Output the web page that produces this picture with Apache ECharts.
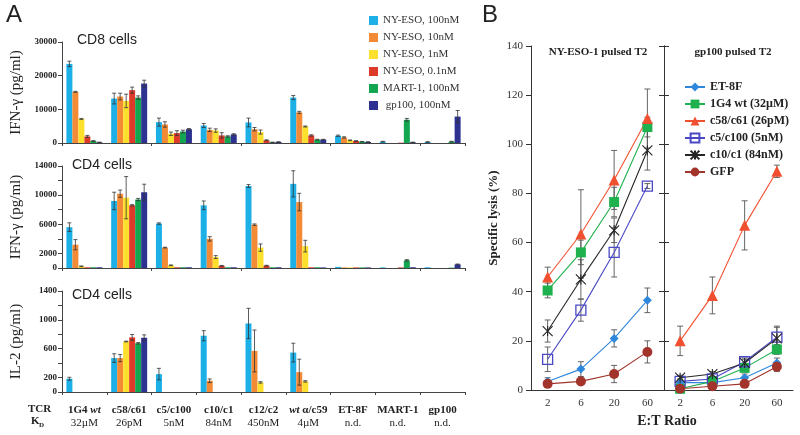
<!DOCTYPE html>
<html><head><meta charset="utf-8">
<script src="https://cdn.jsdelivr.net/npm/echarts@6/dist/echarts.min.js"></script>
<style>html,body{margin:0;padding:0;background:#fff}#c{width:800px;height:435px}</style>
</head><body><div id="c"></div>
<script>
// ---------- Panel A data ----------
const categories = ['1G4 wt','c58/c61','c5/c100','c10/c1','c12/c2','wt α/c59','ET-8F','MART-1','gp100'];
const kdValues = ['32µM','26pM','5nM','84nM','450nM','4µM','n.d.','n.d.','n.d.'];
const peptideNames = ['NY-ESO, 100nM','NY-ESO, 10nM','NY-ESO, 1nM','NY-ESO, 0.1nM','MART-1, 100nM',' gp100, 100nM'];
const peptideColors = ['#1cb0e6','#f28a36','#fde02e','#de3a2a','#13a650','#2d3190'];

const cd8Ifn = [
  [23500,13200,6200,5200,6100,13500,2150,400,300],
  [15200,13800,5500,3900,4100,9100,1650,0,0],
  [7150,12500,2750,3700,3250,4900,800,0,0],
  [1950,15700,2950,2250,800,2250,600,100,0],
  [600,13500,3400,1950,200,1000,400,6900,400],
  [200,17650,4100,2550,300,1000,300,200,7850]
];
const cd8IfnErr = [
  [800,1600,1200,600,1300,600,200,100,100],
  [150,1000,800,500,500,300,200,0,0],
  [150,2000,500,500,600,150,100,0,0],
  [300,900,700,800,150,200,100,0,0],
  [100,500,400,200,50,100,50,400,100],
  [50,1000,200,200,50,100,50,50,1800]
];
const cd4Ifn = [
  [5600,9200,6100,8600,11250,11550,150,80,100],
  [3200,10200,2800,4000,5950,9050,80,0,0],
  [230,9650,370,1500,2800,3000,80,0,0],
  [100,8600,100,300,320,100,80,80,0],
  [100,9400,100,100,100,100,80,1050,50],
  [100,10400,100,100,100,80,80,100,500]
];
const cd4IfnErr = [
  [600,1200,100,600,200,1800,0,0,0],
  [700,500,50,300,100,1200,0,0,0],
  [50,2900,50,200,500,800,0,0,0],
  [0,100,0,50,50,0,0,0,0],
  [0,150,0,0,0,0,0,100,0],
  [0,1100,0,0,0,0,0,0,50]
];
const cd4Il2 = [
  [184,470,248,780,950,546,0,0,0],
  [0,470,0,156,569,275,0,0,0],
  [0,700,0,0,133,147,0,0,0],
  [0,757,0,0,0,0,0,0,0],
  [0,675,0,0,0,0,0,0,0],
  [0,752,0,0,0,0,0,0,0]
];
const cd4Il2Err = [
  [20,60,80,70,210,130,0,0,0],
  [0,50,0,25,290,180,0,0,0],
  [0,5,0,0,10,10,0,0,0],
  [0,40,0,0,0,0,0,0,0],
  [0,10,0,0,0,0,0,0,0],
  [0,40,0,0,0,0,0,0,0]
];
const cd8IfnTicks = [0,10000,20000,30000];
const cd4IfnTicks = [0,2000,6000,10000,14000];
const cd4Il2Ticks = [0,200,600,1000,1400];

// ---------- Panel B data ----------
const etRatios = ['2','6','20','60'];
const tcrNames = ['ET-8F','1G4 wt (32µM)','c58/c61 (26pM)','c5/c100 (5nM)','c10/c1 (84nM)','GFP'];
const tcrColors = ['#2f87dc','#1fb14e','#f0502f','#4a48c4','#262626','#a3342b'];
const lysisNyEso = [
  [3.5,8.5,21,36.5],
  [40.5,56,76.5,107],
  [46,63.5,85.5,110.5],
  [12.5,32.5,56,83],
  [24,45,65,97.5],
  [2.5,3.5,6.5,15.5]
];
const lysisNyEsoErr = [
  [1.5,3,3.5,5],
  [3,5,6,4],
  [4,18,12,12],
  [5,4.5,10,1],
  [4.5,8,5,8],
  [1,1,3.5,4.5]
];
const lysisGp100 = [
  [3,3,5,11],
  [0.5,3.5,9,16.5],
  [20,38.5,67,89],
  [3.5,4.5,11.5,21.5],
  [5,6.5,11,21],
  [0.5,1.5,2.5,9.5]
];
const lysisGp100Err = [
  [1,1,1.5,2],
  [0.5,1,1.5,2],
  [6,7.5,10,2.5],
  [1,1,1.5,4.5],
  [1,1,1.5,4.5],
  [0.5,1,1,2]
];

// ---------- build ----------
const SERIF = 'Liberation Serif';
const SANS = 'Liberation Sans';
const BAR_W = 6;
const chart = echarts.init(document.getElementById('c'), null, {renderer:'canvas'});

function errRenderer(offset, cap, color, lw){
  return function(params, api){
    const x = api.value(0), y = api.value(1), e = api.value(2);
    if (!e) return null;
    const top = api.coord([x, y + e]);
    const bot = api.coord([x, Math.max(0, y - e)]);
    const cx = top[0] + offset;
    const st = {stroke: color, lineWidth: lw};
    return {type:'group', children:[
      {type:'line', shape:{x1:cx, y1:top[1], x2:cx, y2:bot[1]}, style:st},
      {type:'line', shape:{x1:cx-cap, y1:top[1], x2:cx+cap, y2:top[1]}, style:st},
      {type:'line', shape:{x1:cx-cap, y1:bot[1], x2:cx+cap, y2:bot[1]}, style:st}
    ]};
  };
}

const grids = [
  {left:62, top:42, width:403, height:101},
  {left:62, top:166, width:403, height:102},
  {left:62, top:291, width:403, height:101},
  {left:531, top:46, width:133, height:344},
  {left:664, top:46, width:129, height:344}
];

function catLabel(v, i){
  const words = v.split(' ');
  const first = words.map(w => w === 'wt' ? '{bi|wt}' : '{b|' + w + '}').join('{b| }');
  return first + '\n{n|' + kdValues[i] + '}';
}

const axisLineStyle = {color:'#444', width:1};
const xAxes = [0,1,2].map(g => ({
  type:'category', gridIndex:g, data:categories,
  axisLine:{lineStyle:axisLineStyle},
  axisTick:{show:true, length:3, lineStyle:axisLineStyle},
  axisLabel: g === 2 ? {
    show:true, margin:12, interval:0,
    formatter: catLabel,
    rich:{
      b:{fontFamily:SERIF, fontWeight:'bold', fontSize:11, color:'#222', lineHeight:13},
      bi:{fontFamily:SERIF, fontWeight:'bold', fontStyle:'italic', fontSize:11, color:'#222', lineHeight:13},
      n:{fontFamily:SERIF, fontSize:11, color:'#222', lineHeight:13}
    }
  } : {show:false}
}));
xAxes.push(
  {type:'category', gridIndex:3, data:etRatios, axisLine:{lineStyle:{color:'#333'}},
   axisTick:{length:4, lineStyle:{color:'#333'}},
   axisLabel:{fontFamily:SERIF, fontSize:11, color:'#333', margin:8}},
  {type:'category', gridIndex:4, data:etRatios, axisLine:{lineStyle:{color:'#333'}},
   axisTick:{length:4, lineStyle:{color:'#333'}},
   axisLabel:{fontFamily:SERIF, fontSize:11, color:'#333', margin:8}}
);

function yA(g, max, interval, ticks, name){
  return {
    type:'value', gridIndex:g, min:0, max:max, interval:interval,
    name:name, nameLocation:'middle', nameGap:38,
    nameTextStyle:{fontFamily:SERIF, fontSize:15, color:'#222'},
    splitLine:{show:false},
    axisLine:{show:true, lineStyle:axisLineStyle},
    axisTick:{show:true, length:4, lineStyle:axisLineStyle},
    axisLabel:{fontFamily:SERIF, fontWeight:'bold', fontSize:9, color:'#222', margin:5,
      formatter: v => ticks.indexOf(v) >= 0 ? String(v) : ''}
  };
}
const yAxes = [
  yA(0, 30000, 10000, cd8IfnTicks, 'IFN-γ (pg/ml)'),
  yA(1, 14000, 2000, cd4IfnTicks, 'IFN-γ (pg/ml)'),
  yA(2, 1400, 200, cd4Il2Ticks, 'IL-2 (pg/ml)'),
  {type:'value', gridIndex:3, min:0, max:140, interval:20,
   name:'Specific lysis (%)', nameLocation:'middle', nameGap:31,
   nameTextStyle:{fontFamily:SERIF, fontWeight:'bold', fontSize:13, color:'#222'},
   splitLine:{show:false}, axisLine:{show:true, lineStyle:{color:'#333'}},
   axisTick:{show:true, length:5, lineStyle:{color:'#333'}},
   axisLabel:{fontFamily:SERIF, fontSize:11, color:'#333', margin:8}},
  {type:'value', gridIndex:3, min:0, max:140, interval:20, position:'right',
   splitLine:{show:false}, axisLine:{show:true, lineStyle:{color:'#333'}},
   axisTick:{show:true, length:5, lineStyle:{color:'#333'}}, axisLabel:{show:false}},
  {type:'value', gridIndex:4, min:0, max:140, interval:20, position:'left',
   splitLine:{show:false}, axisLine:{show:true, lineStyle:{color:'#333'}},
   axisTick:{show:true, length:5, lineStyle:{color:'#333'}}, axisLabel:{show:false}}
];

const series = [];
const panelA = [[cd8Ifn, cd8IfnErr],[cd4Ifn, cd4IfnErr],[cd4Il2, cd4Il2Err]];
panelA.forEach((pair, g) => {
  const vals = pair[0], errs = pair[1];
  peptideNames.forEach((nm, i) => {
    series.push({type:'bar', name:nm, xAxisIndex:g, yAxisIndex:g, data:vals[i],
      barWidth:BAR_W, barGap:'0%', itemStyle:{color:peptideColors[i]}, z:2, silent:true});
  });
  peptideNames.forEach((nm, i) => {
    series.push({type:'custom', name:'err-'+g+'-'+i, xAxisIndex:g, yAxisIndex:g,
      renderItem: errRenderer((i - 2.5) * BAR_W, 2, '#333', 0.8),
      encode:{x:0, y:1}, z:5, silent:true,
      data: vals[i].map((v, k) => [k, v, errs[i][k]])});
  });
});

const symbols = ['diamond','rect','triangle','rect','path://M0,0L10,10M10,0L0,10M5,0L5,10','circle'];
const symSizes = [9, 10, 11, 10, 10, 10];
const panelB = [[lysisNyEso, lysisNyEsoErr, 3, 3],[lysisGp100, lysisGp100Err, 4, 5]];
panelB.forEach(p => {
  const vals = p[0], errs = p[1], gx = p[2], gy = p[3];
  tcrNames.forEach((nm, i) => {
    series.push({type:'custom', name:'berr-'+gx+'-'+i, xAxisIndex:gx, yAxisIndex:gy,
      renderItem: errRenderer(0, 3, '#555', 0.9), encode:{x:0, y:1}, z:3, silent:true,
      data: vals[i].map((v, k) => [k, v, errs[i][k]])});
  });
  tcrNames.forEach((nm, i) => {
    let itemStyle = {color: tcrColors[i]};
    if (i === 3) itemStyle = {color:'rgba(255,255,255,0)', borderColor:tcrColors[i], borderWidth:1.3};
    if (i === 4) itemStyle = {color:'rgba(0,0,0,0)', borderColor:tcrColors[i], borderWidth:1.1};
    series.push({type:'line', name:nm, xAxisIndex:gx, yAxisIndex:gy, data:vals[i],
      symbol:symbols[i], symbolSize:symSizes[i], showSymbol:true,
      lineStyle:{color:tcrColors[i], width:1.1}, itemStyle:itemStyle, z:4, silent:true});
  });
});

const txt = (x, y, text, font, extra) => Object.assign({type:'text', x:x, y:y,
  style:Object.assign({text:text, fill:'#222', font:font}, extra || {})});

chart.setOption({
  animation:false,
  backgroundColor:'#fff',
  grid:grids,
  xAxis:xAxes,
  yAxis:yAxes,
  legend:[
    {data:peptideNames, left:364, top:10, orient:'vertical', icon:'rect', itemWidth:9, itemHeight:9, itemGap:6,
     textStyle:{fontFamily:SERIF, fontSize:11, color:'#333'}, selectedMode:false},
    {data:tcrNames, left:679, top:76, orient:'vertical', itemWidth:20, itemHeight:11, itemGap:5,
     textStyle:{fontFamily:SERIF, fontWeight:'bold', fontSize:12, color:'#222'}, selectedMode:false}
  ],
  series:series,
  graphic:[
    txt(6, 3, 'A', '24px ' + SANS),
    txt(482, 3, 'B', '24px ' + SANS),
    txt(77, 33, 'CD8 cells', '14px ' + SANS),
    txt(72, 158, 'CD4 cells', '14px ' + SANS),
    txt(72, 288, 'CD4 cells', '14px ' + SANS),
    txt(28, 404, 'TCR', 'bold 11px ' + SERIF),
    txt(31, 416, 'K', 'bold 11px ' + SERIF),
    txt(39, 422, 'D', 'bold 7px ' + SERIF),
    txt(598, 47, 'NY-ESO-1 pulsed T2', 'bold 11px ' + SERIF, {textAlign:'center'}),
    txt(733, 47, 'gp100 pulsed T2', 'bold 11px ' + SERIF, {textAlign:'center'}),
    txt(667, 414, 'E:T Ratio', 'bold 14px ' + SERIF, {textAlign:'center'})
  ]
});
</script>
</body></html>
